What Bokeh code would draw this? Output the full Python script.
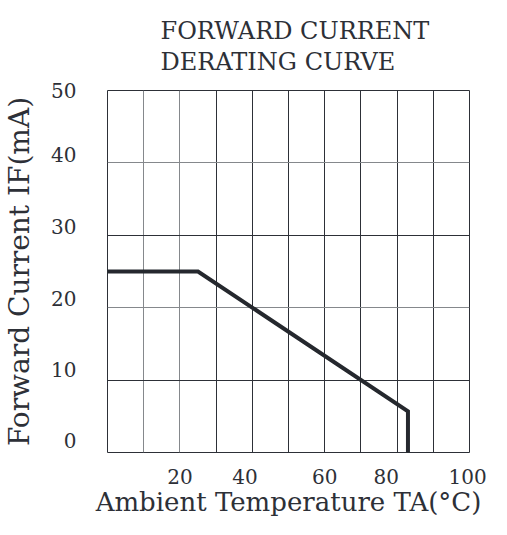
from bokeh.plotting import figure
from bokeh.models import Range1d, FixedTicker, Grid, Title
from bokeh.embed import file_html
from bokeh.resources import INLINE

# ---- data ----
temp = [0, 25, 83, 83]          # Ambient temperature (°C)
current = [25, 25, 5.7, 0]      # Forward current (mA)

x_tick_pos = [20, 38, 60, 77, 99.5]
x_tick_labels = ["20", "40", "60", "80", "100"]
y_tick_pos = [1.6, 11.5, 21.3, 31.2, 41.1, 50]
y_tick_labels = ["0", "10", "20", "30", "40", "50"]

grid_x_dark = [30, 40, 50, 60, 70, 80, 90]
grid_x_light = [10, 20]
grid_y_dark = [10, 30]
grid_y_light = [20, 40]

title_lines = ["FORWARD CURRENT", "DERATING CURVE"]
x_label = "Ambient Temperature TA(°C)"
y_label = "Forward Current IF(mA)"

DARK = "#2d3037"
LIGHT = "#85888c"
FONT = "DejaVu Serif"

p = figure(width=491, height=519, x_range=Range1d(0, 100), y_range=Range1d(0, 50),
           output_backend="svg", toolbar_location=None,
           min_border_left=99, min_border_right=22, min_border_top=90, min_border_bottom=67)
p.background_fill_color = "white"
p.border_fill_color = "white"
p.outline_line_color = DARK
p.outline_line_width = 1
p.outline_line_alpha = 1.0
p.xgrid.visible = False
p.ygrid.visible = False

for ticks, col, dim in [(grid_x_dark, DARK, 0), (grid_x_light, LIGHT, 0),
                        (grid_y_dark, DARK, 1), (grid_y_light, LIGHT, 1)]:
    p.add_layout(Grid(dimension=dim, ticker=FixedTicker(ticks=ticks),
                      grid_line_color=col, grid_line_width=1))

p.line(temp, current, line_width=4, color="#25282e", line_join="miter")

for ax, pos, labs in [(p.xaxis[0], x_tick_pos, x_tick_labels), (p.yaxis[0], y_tick_pos, y_tick_labels)]:
    ax.ticker = FixedTicker(ticks=pos)
    ax.major_label_overrides = {t: l for t, l in zip(pos, labs)}
    ax.major_tick_line_color = None
    ax.minor_tick_line_color = None
    ax.axis_line_color = None
    ax.major_label_text_font = FONT
    ax.major_label_text_font_size = "20px"
    ax.major_label_text_color = DARK
    ax.axis_label_text_font = FONT
    ax.axis_label_text_font_style = "normal"
    ax.axis_label_text_color = DARK

p.xaxis.axis_label = x_label
p.yaxis.axis_label = y_label
p.xaxis.axis_label_text_font_size = "26px"
p.yaxis.axis_label_text_font_size = "28px"
p.xaxis.major_label_standoff = 10
p.yaxis.major_label_standoff = 25
p.xaxis.axis_label_standoff = 0
p.yaxis.axis_label_standoff = 12

p.add_layout(Title(text="\n".join(title_lines), align="left", offset=53, standoff=28,
                   text_font=FONT, text_font_size="24px", text_font_style="normal",
                   text_line_height=1.12, text_color=DARK), "above")

open("out.html", "w").write(file_html(p, INLINE))
